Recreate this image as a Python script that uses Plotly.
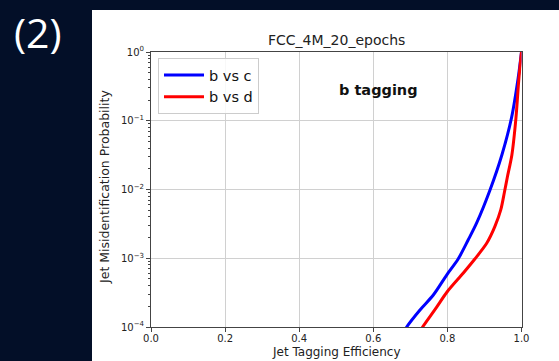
import plotly.graph_objects as go

W, H = 559, 361

# ROC-style curves: b-tagging efficiency vs. misidentification probability
eff_bc = [0.680, 0.690, 0.726, 0.762, 0.798, 0.829, 0.856, 0.879, 0.915, 0.947, 0.973, 0.991, 1.000]
mis_bc = [8.0e-5, 1.0e-4, 1.77e-4, 2.92e-4, 5.70e-4, 9.75e-4, 1.84e-3, 3.26e-3, 9.84e-3, 3.18e-2, 0.110, 0.419, 1.0]

eff_bd = [0.722, 0.733, 0.771, 0.799, 0.843, 0.874, 0.906, 0.928, 0.944, 0.954, 0.962, 0.974, 0.985, 0.993, 1.000]
mis_bd = [8.0e-5, 1.0e-4, 1.95e-4, 3.23e-4, 6.10e-4, 9.75e-4, 1.65e-3, 2.88e-3, 5.04e-3, 9.20e-3, 1.53e-2, 3.18e-2, 0.109, 0.414, 1.0]

x_ticks = [0.0, 0.2, 0.4, 0.6, 0.8, 1.0]
x_ticktext = ["0.0", "0.2", "0.4", "0.6", "0.8", "1.0"]
y_ticks = [1e-4, 1e-3, 1e-2, 1e-1, 1e0]
y_ticktext = ["10<sup>−4</sup>", "10<sup>−3</sup>", "10<sup>−2</sup>", "10<sup>−1</sup>", "10<sup>0</sup>"]

FONT = "DejaVu Sans"
BG = "#030f28"


def px(x):
    return x / W


def py(y):
    return 1 - y / H


def label(text, x, y, size, color="#222222", family=FONT, angle=0):
    return dict(text=text, x=px(x), y=py(y), xref="paper", yref="paper",
                xanchor="center", yanchor="middle", textangle=angle,
                showarrow=False, font=dict(family=family, size=size, color=color))


fig = go.Figure()
fig.add_trace(go.Scatter(x=eff_bc, y=mis_bc, mode="lines", name="b vs c",
                         line=dict(color="#0000ff", width=3, shape="spline", smoothing=0.8)))
fig.add_trace(go.Scatter(x=eff_bd, y=mis_bd, mode="lines", name="b vs d",
                         line=dict(color="#ff0000", width=3, shape="spline", smoothing=0.8)))

axis_common = dict(showgrid=True, gridcolor="#d0d0d0", gridwidth=1,
                   showline=True, linecolor="#444444", linewidth=1, mirror=True,
                   ticks="outside", ticklen=4, tickcolor="#444444",
                   zeroline=False, automargin=False, tickfont=dict(size=10, color="#222222"))

fig.update_layout(
    width=W, height=H, autosize=False,
    margin=dict(l=0, r=0, t=0, b=0, pad=0, autoexpand=False),
    paper_bgcolor=BG, plot_bgcolor="white",
    font=dict(family=FONT, color="#222222", size=10),
    showlegend=True,
    shapes=[dict(type="rect", xref="paper", yref="paper", layer="below",
                 x0=px(92), x1=1.0, y0=0.0, y1=py(10),
                 fillcolor="white", line=dict(width=0))],
    legend=dict(x=px(158), y=py(58), xanchor="left", yanchor="top",
                bgcolor="rgba(255,255,255,0.85)", bordercolor="#cccccc", borderwidth=1,
                font=dict(family=FONT, size=14.5, color="#111111"),
                tracegroupgap=0, itemwidth=40),
    xaxis=dict(domain=[px(151), px(521.5)], range=[0, 1],
               tickvals=x_ticks, ticktext=x_ticktext, ticklabelstandoff=-2, **axis_common),
    yaxis=dict(domain=[py(327), py(52)], type="log", range=[-4, 0],
               tickvals=y_ticks, ticktext=y_ticktext,
               minor=dict(tickmode="linear", dtick="D1", ticks="outside", ticklen=2,
                          tickcolor="#444444", showgrid=False),
               **axis_common),
    annotations=[
        label("FCC_4M_20_epochs", 336, 40, 14),
        label("<b>b tagging</b>", 378, 90, 14.5, color="#111111"),
        label("Jet Tagging Efficiency", 336, 352, 12),
        label("Jet Misidentification Probability", 104, 187, 12.5, angle=-90),
        label("(2)", 38, 32, 41, color="white", family="Open Sans"),
    ],
)

fig.write_html("out.html")
